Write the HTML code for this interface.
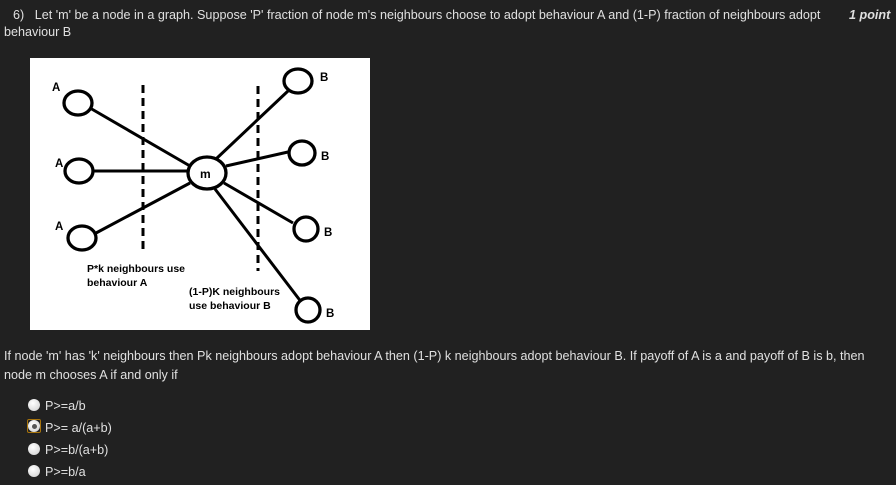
<!DOCTYPE html>
<html><head><style>
body{margin:0;width:896px;height:485px;background:#212121;font-family:"Liberation Sans",sans-serif;color:#e0e0e0;position:relative;overflow:hidden}
.t{position:absolute;font-size:12.6px;line-height:18px;white-space:nowrap}
.r{position:absolute;width:12px;height:12px;border-radius:50%;background:radial-gradient(circle at 40% 35%,#fff,#ccc)}
</style></head><body>
<div class="t" style="left:13px;top:6px">6)&nbsp;&nbsp; Let 'm' be a node in a graph. Suppose 'P' fraction of node m's neighbours choose to adopt behaviour A and (1-P) fraction of neighbours adopt</div>
<div class="t" style="left:4px;top:23px">behaviour B</div>
<div class="t" style="left:849px;top:6px;font-style:italic;font-weight:bold">1 point</div>
<svg style="position:absolute;left:30px;top:58px" width="340" height="272" viewBox="0 0 340 272">
<rect x="0" y="0" width="340" height="272" fill="#fff"/>
<g stroke="#000" stroke-width="3" fill="none">
<line x1="60" y1="50" x2="160" y2="108"/>
<line x1="63" y1="113" x2="158" y2="113"/>
<line x1="66" y1="175" x2="160" y2="125"/>
<line x1="186" y1="101" x2="258" y2="33"/>
<line x1="196" y1="108" x2="258" y2="94"/>
<line x1="194" y1="125" x2="263" y2="165"/>
<line x1="185" y1="131" x2="272" y2="245"/>
<line x1="113" y1="27" x2="113" y2="194" stroke-dasharray="8,5"/>
<line x1="228" y1="28" x2="228" y2="213" stroke-dasharray="8,5"/>
<g stroke-width="3.3">
<ellipse cx="48" cy="45" rx="14" ry="12" fill="#fff"/>
<ellipse cx="49" cy="113" rx="14" ry="12" fill="#fff"/>
<ellipse cx="52" cy="180" rx="14" ry="12" fill="#fff"/>
<ellipse cx="177" cy="115" rx="19" ry="16" fill="#fff"/>
<ellipse cx="268" cy="23" rx="14" ry="12" fill="#fff"/>
<ellipse cx="272" cy="95" rx="13" ry="12" fill="#fff"/>
<ellipse cx="276" cy="171" rx="12" ry="12" fill="#fff"/>
<ellipse cx="278" cy="252" rx="12" ry="12" fill="#fff"/>
</g>
</g>
<g font-family="Liberation Sans,sans-serif" font-weight="bold" font-size="10.5" fill="#000">
<text x="22" y="33" font-size="11.5">A</text><text x="25" y="109" font-size="11.5">A</text><text x="25" y="172" font-size="11.5">A</text>
<text x="170" y="120" font-size="12">m</text>
<text x="290" y="23" font-size="11.5">B</text><text x="291" y="102" font-size="11.5">B</text><text x="294" y="178" font-size="11.5">B</text><text x="296" y="259" font-size="11.5">B</text>
<text x="57" y="214">P*k neighbours use</text><text x="57" y="228">behaviour A</text>
<text x="159" y="237">(1-P)K neighbours</text><text x="159" y="251">use behaviour B</text>
</g>
</svg>
<div class="t" style="left:4px;top:347px">If node 'm' has 'k' neighbours then Pk neighbours adopt behaviour A then (1-P) k neighbours adopt behaviour B. If payoff of A is a and payoff of B is b, then</div>
<div class="t" style="left:4px;top:366px">node m chooses A if and only if</div>
<div class="r" style="left:28px;top:399px"></div><div class="t" style="left:45px;top:397px">P&gt;=a/b</div>
<div style="position:absolute;left:27px;top:419px;width:12px;height:12px;border:1px solid #a8740c;border-radius:2px"></div>
<div class="r" style="left:28px;top:420px"></div><div style="position:absolute;left:32px;top:424px;width:5px;height:5px;border-radius:50%;background:#555"></div>
<div class="t" style="left:45px;top:419px">P&gt;= a/(a+b)</div>
<div class="r" style="left:28px;top:443px"></div><div class="t" style="left:45px;top:441px">P&gt;=b/(a+b)</div>
<div class="r" style="left:28px;top:465px"></div><div class="t" style="left:45px;top:463px">P&gt;=b/a</div>
</body></html>
